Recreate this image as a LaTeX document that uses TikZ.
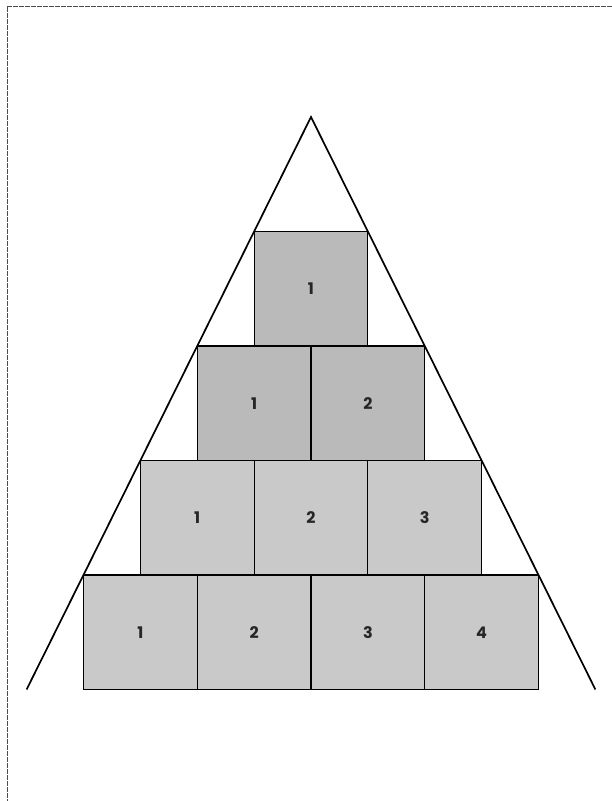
\documentclass[tikz,border=0pt]{standalone}
\usepackage{fontspec}
\setmainfont{Poppins}
\begin{document}
\begin{tikzpicture}[x=1pt,y=-1pt,
  blk/.style={draw=black, line width=1.1pt, minimum width=113.75pt, minimum height=114.5pt, inner sep=0pt, font=\fontsize{16}{16}\selectfont\bfseries, text=black!85},
  upper/.style={blk, fill=black!27},
  lower/.style={blk, fill=black!21},
  side/.style={line width=1.7pt, draw=black},
  frame/.style={draw=black!70, line width=0.8pt, dash pattern=on 5pt off 1pt}]
\useasboundingbox (0,0) rectangle (612,801);
\draw[frame] (612,6) -- (7,6) -- (7,801);
\foreach \k in {1,2}{
  \foreach \i in {1,...,\k}{
    \node[upper] (b\k\i) at ({311+(\i-(\k+1)/2)*113.75},{117+\k*114.5+57.25}) {\i};
  }
}
\foreach \k in {3,4}{
  \foreach \i in {1,...,\k}{
    \node[lower] (b\k\i) at ({311+(\i-(\k+1)/2)*113.75},{117+\k*114.5+57.25}) {\i};
  }
}
\coordinate (apex) at (311,117);
\coordinate (bl) at (26.6,689.5);
\coordinate (br) at (595.4,689.5);
\draw[side] (bl) -- (apex) -- (br);
\end{tikzpicture}
\end{document}
